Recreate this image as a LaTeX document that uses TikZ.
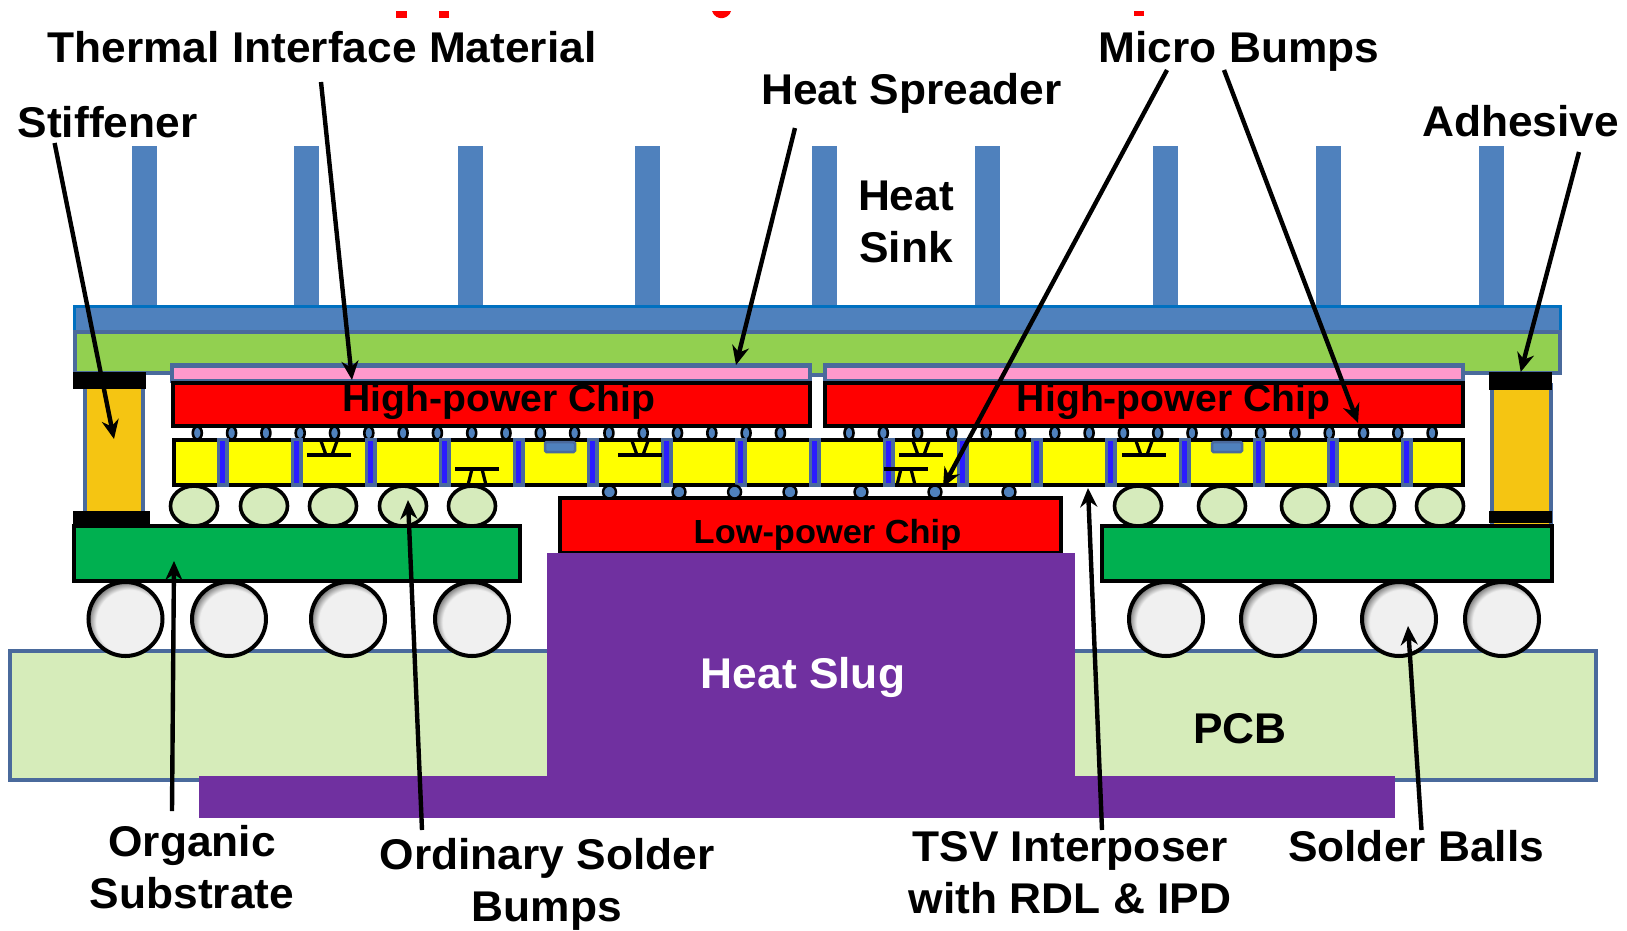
\documentclass[tikz,border=0pt]{standalone}
\usepackage{fontspec}
\setmainfont[FakeStretch=1.03]{Liberation Sans}
\usetikzlibrary{arrows.meta}
\definecolor{finblue}{HTML}{4F81BD}
\definecolor{edgeblue}{HTML}{4A6A9C}
\definecolor{sinkedge}{HTML}{0070C0}
\definecolor{spreader}{HTML}{92D050}
\definecolor{timpink}{HTML}{FF99CC}
\definecolor{viablue}{HTML}{2A1CFF}
\definecolor{bumpgreen}{HTML}{D6EBBC}
\definecolor{pcbgreen}{HTML}{D6ECBA}
\definecolor{subgreen}{HTML}{00B050}
\definecolor{gold}{HTML}{F5C512}
\definecolor{slug}{HTML}{7030A0}
\definecolor{chipred}{HTML}{FF0000}
\definecolor{siliconyellow}{HTML}{FFFF00}
\definecolor{ballgrey}{HTML}{F0F0F0}
\definecolor{ballshade}{HTML}{303030}
\pgfdeclareradialshading{solderball}{\pgfpoint{4bp}{-4bp}}{color(0bp)=(ballgrey); color(22bp)=(ballgrey); color(30bp)=(ballshade); color(50bp)=(ballshade)}
\tikzset{
  label/.style={font=\bfseries\fontsize{43}{52}\selectfont, align=center, inner sep=0pt},
  chiplabel/.style={font=\bfseries\fontsize{38}{44}\selectfont, inner sep=0pt},
  pointer/.style={line width=4.4pt, -{Stealth[length=19pt,width=17pt]}},
  layer/.style={draw=black, line width=4pt},
  skin/.style={draw=edgeblue, line width=3.5pt},
  ball/.style={draw=black, line width=4pt, shading=solderball}
}
\begin{document}
\begin{tikzpicture}[x=1pt,y=-1pt]
\useasboundingbox (0,0) rectangle (1627,930);
%clipped title at the top edge
\fill[chipred] (396,11) rectangle (407,18);
\fill[chipred] (439,11) rectangle (449,18);
\fill[chipred] (712,11) -- (731,11) .. controls (729,19) and (716,22) .. (712,11);
\fill[chipred] (1134,11) rectangle (1144,16);
%pcb and heat slug
\draw[skin, fill=pcbgreen] (10,651) rectangle (1596,780);
\fill[slug] (547,553) rectangle (1075,776);
\fill[slug] (199,776) rectangle (1395,818);
%heat sink with its fins
\foreach \x in {132,294,458,635,812,975,1153,1316,1479}
    \fill[finblue] (\x,146) rectangle (\x+25,305);
\draw[draw=sinkedge, line width=3pt, fill=finblue] (74,306) rectangle (1560,332);
%heat spreader, steps down between the two chips
\draw[skin, fill=spreader] (75,332) -- (1560,332) -- (1560,373) -- (1463,373)
    -- (1463,365) -- (825,365) -- (825,375) -- (810,375) -- (810,365)
    -- (172,365) -- (172,373) -- (75,373) -- cycle;
%stiffener and adhesive, left
\draw[skin, fill=gold] (85,385) rectangle (143,515);
\fill[black] (73,372) rectangle (146,389);
%stiffener and adhesive, right
\draw[skin, fill=gold] (1492,385) rectangle (1551,530);
\fill[black] (1489,372) rectangle (1552,390);
%thermal interface material
\draw[skin, fill=timpink] (172,366) rectangle (810,381);
\draw[skin, fill=timpink] (825,366) rectangle (1463,381);
%high-power chips
\draw[layer, fill=chipred] (173,383) rectangle (810,426);
\draw[layer, fill=chipred] (825,383) rectangle (1463,426);
%interposer
\draw[layer, fill=siliconyellow] (174,440) rectangle (1463,485);
%micro bumps on top of the interposer
\foreach \k in {0,...,36}{
    \ifnum\k=18\else
    \draw[draw=black, line width=2.6pt, fill=finblue] (197.3+34.3*\k,433) ellipse (4.5 and 6.5);
    \fi
}
%vias through the interposer
\foreach \k in {0,...,16}{
    \fill[edgeblue] (216.7+74*\k,438) rectangle (228.7+74*\k,487);
    \fill[viablue] (220.2+74*\k,441) rectangle (225.2+74*\k,483);
}
%passives in the interposer
\foreach \x in {545,1212}
    \draw[draw=edgeblue, line width=2.5pt, fill=finblue, rounded corners=1.5pt] (\x,442) rectangle (\x+30,452);
%transistors hanging from the top side
\foreach \x in {329,640,921,1144}{
    \draw[line width=3.2pt] (\x-22,455) -- (\x+22,455);
    \draw[line width=3.2pt] (\x-8,441) -- (\x-3,455) (\x+8,441) -- (\x+3,455);
}
%transistors standing on the bottom side
\foreach \x in {477,906}{
    \draw[line width=3.2pt] (\x-22,469) -- (\x+22,469);
    \draw[line width=3.2pt] (\x-5,469) -- (\x-9,485) (\x+5,469) -- (\x+9,485);
}
%low-power chip and the bumps above it
\draw[layer, fill=chipred] (560,498) rectangle (1061,553);
\fill[slug] (547,553) rectangle (1075,560);
\foreach \x in {609.5,679,734.6,790,861,935,1009}
    \draw[draw=black, line width=2.4pt, fill=finblue] (\x,492) circle (6.5);
%ordinary solder bumps
\foreach \x in {194,264,333,403,472,1138,1222,1305,1440}
    \draw[draw=black, line width=3.6pt, fill=bumpgreen] (\x,506) ellipse (23.5 and 20);
\draw[draw=black, line width=3.6pt, fill=bumpgreen] (1373,506) ellipse (21.5 and 20);
%organic substrates
\draw[layer, fill=subgreen] (74,526) rectangle (520,581);
\draw[layer, fill=subgreen] (1102,526) rectangle (1552,581);
\fill[black] (73,511) rectangle (150,527);
\fill[black] (1489,511) rectangle (1552,523);
%solder balls
\foreach \x in {125.5,229,348,472,1166,1278,1399,1502}
    \draw[ball] (\x,619) circle (37);
%labels
\node[label] (thermal) at (322,47) {Thermal Interface Material};
\node[label] (stiffener) at (107.5,122) {Stiffener};
\node[label] (spreaderlabel) at (911.5,93) {Heat Spreader};
\node[label] (microbumps) at (1239,51) {Micro Bumps};
\node[label] (adhesive) at (1520.5,121) {Adhesive};
\node[label] (heatsink) at (906,222) {Heat\\Sink};
\node[chiplabel] (chipleft) at (499,402) {High-power Chip};
\node[chiplabel] (chipright) at (1173.5,402) {High-power Chip};
\node[font=\bfseries\fontsize{33.4}{38}\selectfont, inner sep=0pt] (chiplow) at (827.5,535) {Low-power Chip};
\node[label, text=white] (slugname) at (803,677) {Heat Slug};
\node[label] (pcb) at (1240,729) {PCB};
\node[label] (organic) at (192,867) {Organic\\Substrate};
\node[label] (ordinary) at (547,884) {Ordinary Solder\\Bumps};
\node[label] (tsv) at (1070,873) {TSV Interposer\\with RDL \& IPD};
\node[label] (balls) at (1416,846) {Solder Balls};
%ends of the pointers
\coordinate (stiffenertail) at (54.6,143);
\coordinate (stiffenertip) at (114,439);
\coordinate (thermaltail) at (321,82);
\coordinate (thermaltip) at (352,380);
\coordinate (spreadertail) at (795,128);
\coordinate (spreadertip) at (736,365);
\coordinate (microtailA) at (1167,70);
\coordinate (microtipA) at (943,487);
\coordinate (microtailB) at (1224,70);
\coordinate (microtipB) at (1358,423);
\coordinate (adhesivetail) at (1579,152);
\coordinate (adhesivetip) at (1520.7,372);
\coordinate (organictail) at (172,811);
\coordinate (organictip) at (174,561);
\coordinate (ordinarytail) at (422,830);
\coordinate (ordinarytip) at (408,500);
\coordinate (tsvtail) at (1102,830);
\coordinate (tsvtip) at (1088,488);
\coordinate (ballstail) at (1421.5,830);
\coordinate (ballstip) at (1408,626);
%pointers
\foreach \a in {stiffener,thermal,spreader,adhesive,organic,ordinary,tsv,balls}
    \draw[pointer] (\a tail) -- (\a tip);
\draw[pointer] (microtailA) -- (microtipA);
\draw[pointer] (microtailB) -- (microtipB);
\end{tikzpicture}
\end{document}
